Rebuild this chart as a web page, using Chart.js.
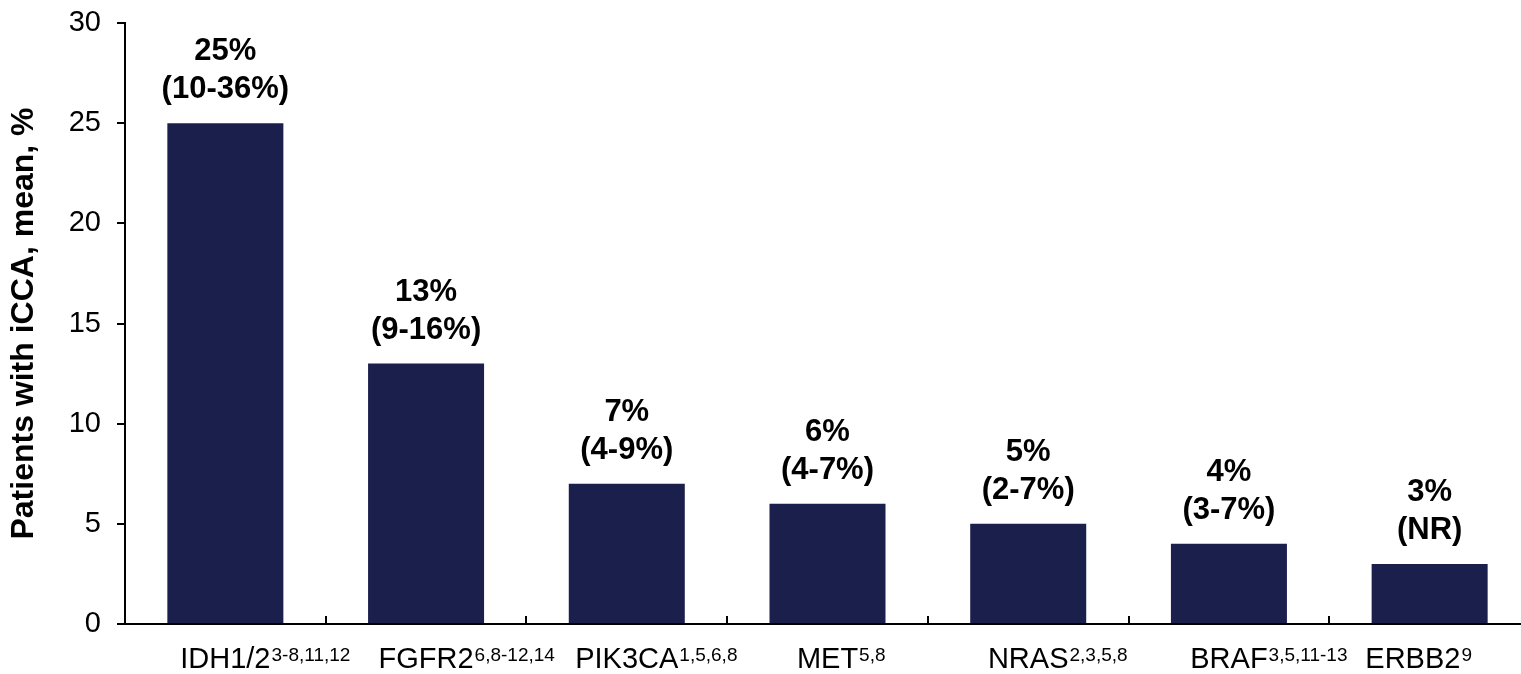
<!DOCTYPE html>
<html>
<head>
<meta charset="utf-8">
<script src="https://cdn.jsdelivr.net/npm/chart.js@4.4.1/dist/chart.umd.min.js"></script>
<style>
  html, body { margin: 0; padding: 0; background: #ffffff; overflow: hidden; }
  #wrap { position: relative; width: 1530px; height: 674px; }
</style>
</head>
<body>
<div id="wrap"><canvas id="chart"></canvas></div>
<script>
// Mutation frequencies in intrahepatic cholangiocarcinoma
const genes = ['IDH1/2', 'FGFR2', 'PIK3CA', 'MET', 'NRAS', 'BRAF', 'ERBB2'];
const refs = ['3-8,11,12', '6,8-12,14', '1,5,6,8', '5,8', '2,3,5,8', '3,5,11-13', '9'];
const meanPct = [25, 13, 7, 6, 5, 4, 3];
const rangeText = ['(10-36%)', '(9-16%)', '(4-9%)', '(4-7%)', '(2-7%)', '(3-7%)', '(NR)'];
const yTicks = [0, 5, 10, 15, 20, 25, 30];

const FONT = "'Liberation Sans', Arial, sans-serif";
const BAR_COLOR = '#1b1f4c';

// Value labels above each bar: mean on the first line, range below it
const valueLabels = {
  id: 'valueLabels',
  afterDatasetsDraw(chart) {
    const { ctx } = chart;
    const meta = chart.getDatasetMeta(0);
    ctx.save();
    ctx.fillStyle = '#000';
    ctx.textAlign = 'center';
    ctx.textBaseline = 'alphabetic';
    ctx.font = `bold 31px ${FONT}`;
    meta.data.forEach((bar, i) => {
      const base = bar.y - 25;
      ctx.fillText(rangeText[i], bar.x, base);
      ctx.fillText(meanPct[i] + '%', bar.x, base - 38);
    });
    ctx.restore();
  }
};

// Category names with reference superscripts, plus inward tick marks between categories
const categoryAxis = {
  id: 'categoryAxis',
  afterDraw(chart) {
    const { ctx, chartArea } = chart;
    const x = chart.scales.x;
    ctx.save();
    // tick marks between categories
    ctx.strokeStyle = '#000';
    ctx.lineWidth = 2;
    const n = genes.length;
    for (let i = 0; i < n; i++) {
      const cur = x.getPixelForValue(i);
      const next = i < n - 1 ? x.getPixelForValue(i + 1) : cur + (cur - x.getPixelForValue(i - 1));
      const bx = Math.round((cur + next) / 2);
      ctx.beginPath();
      ctx.moveTo(bx, chartArea.bottom);
      ctx.lineTo(bx, chartArea.bottom - 8);
      ctx.stroke();
    }
    // labels: name centred under the bar, references as superscript after it
    ctx.fillStyle = '#000';
    ctx.textBaseline = 'alphabetic';
    const baseY = chartArea.bottom + 44;
    const rightLimit = chart.width - 58;
    genes.forEach((g, i) => {
      ctx.font = `29px ${FONT}`;
      const w = ctx.measureText(g).width;
      ctx.font = `19px ${FONT}`;
      const sw = ctx.measureText(refs[i]).width;
      let cx = x.getPixelForValue(i);
      // keep the whole label inside the visible width
      if (cx + w / 2 + 1 + sw > rightLimit) cx = rightLimit - sw - 1 - w / 2;
      ctx.font = `29px ${FONT}`;
      ctx.textAlign = 'center';
      ctx.fillText(g, cx, baseY);
      ctx.font = `19px ${FONT}`;
      ctx.textAlign = 'left';
      ctx.fillText(refs[i], cx + w / 2 + 1, baseY - 7);
    });
    ctx.restore();
  }
};

new Chart(document.getElementById('chart'), {
  type: 'bar',
  data: {
    labels: genes,
    datasets: [{
      data: meanPct,
      backgroundColor: BAR_COLOR,
      borderWidth: 0,
      categoryPercentage: 1.0,
      barPercentage: 0.578
    }]
  },
  options: {
    responsive: true,
    maintainAspectRatio: false,
    animation: false,
    devicePixelRatio: 1,
    layout: { padding: { top: 23, right: 0, bottom: 0, left: 0 } },
    plugins: {
      legend: { display: false },
      tooltip: { enabled: false }
    },
    scales: {
      x: {
        type: 'category',
        offset: true,
        grid: { display: false },
        border: { display: true, color: '#000', width: 2 },
        ticks: { display: false },
        afterFit(scale) { scale.height = 50; }
      },
      y: {
        min: 0,
        max: 30,
        afterBuildTicks(scale) { scale.ticks = yTicks.map(v => ({ value: v })); },
        ticks: {
          color: '#000',
          font: { family: FONT, size: 29 },
          padding: 16
        },
        grid: {
          display: true,
          drawOnChartArea: false,
          drawTicks: true,
          tickLength: 8,
          color: '#000',
          lineWidth: 2
        },
        border: { display: true, color: '#000', width: 2 },
        title: {
          display: true,
          text: 'Patients with iCCA, mean, %',
          color: '#000',
          font: { family: FONT, size: 32, weight: 'bold' },
          padding: { top: 5, bottom: 0 }
        },
        afterFit(scale) {
          scale.width = 125;
          scale.paddingTop = 0;
          scale.paddingBottom = 0;
        }
      }
    }
  },
  plugins: [valueLabels, categoryAxis]
});
</script>
</body>
</html>
